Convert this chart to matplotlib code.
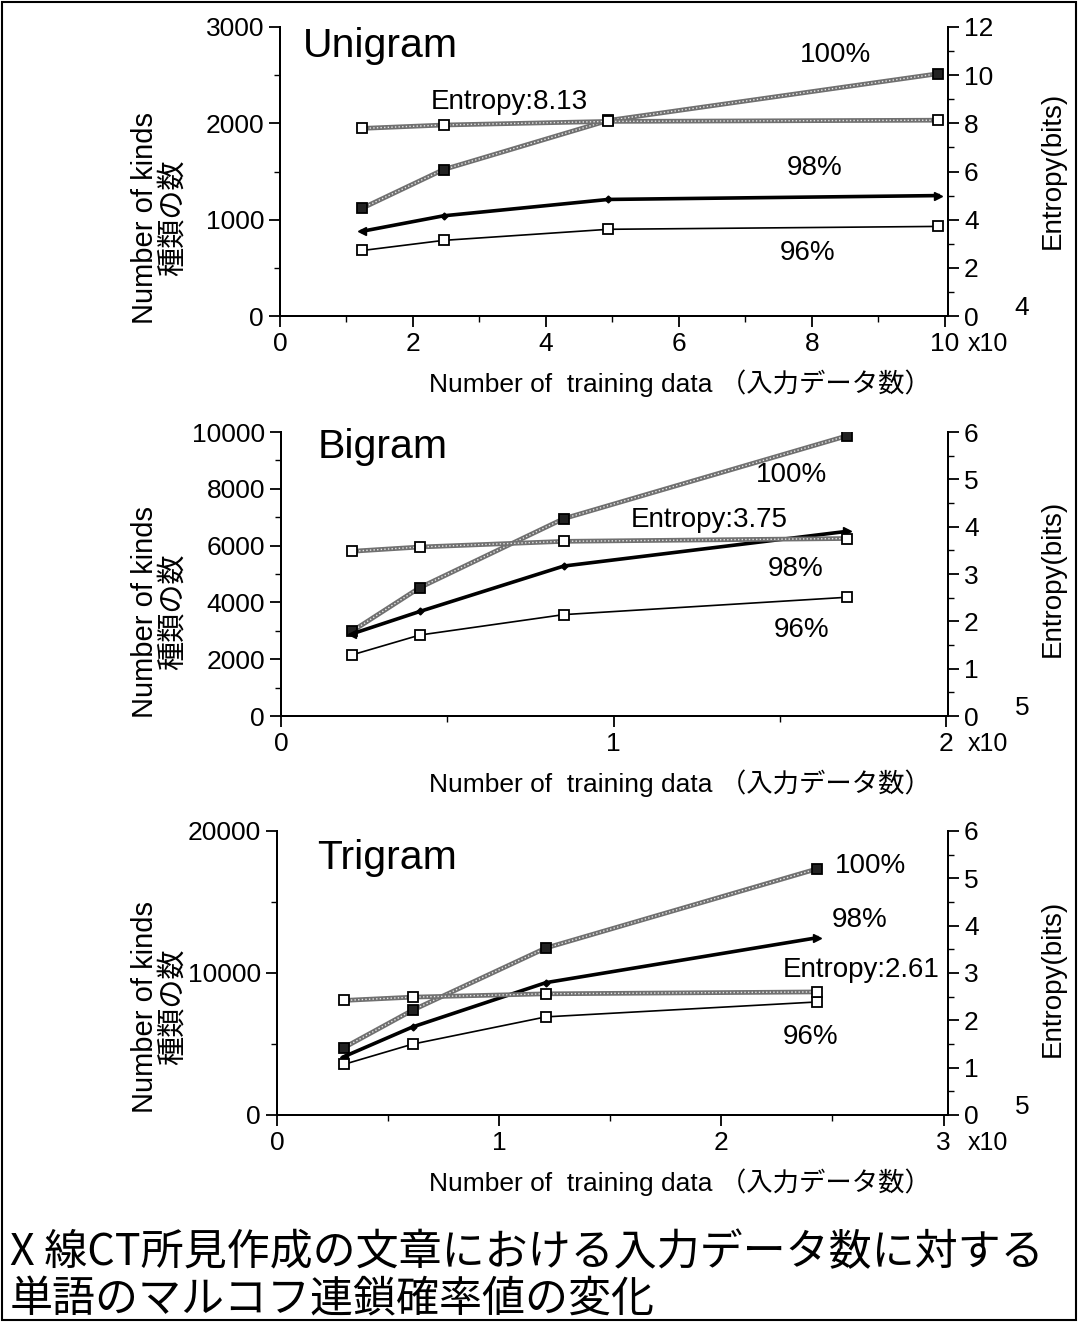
import matplotlib
matplotlib.use('Agg')
import matplotlib.pyplot as plt
from matplotlib.ticker import MultipleLocator
from matplotlib.patches import Rectangle

plt.rcParams['font.family'] = ['Liberation Sans', 'Noto Sans CJK JP', 'DejaVu Sans']

# values (x in units of 10^4 / 10^5)
uni_x = [1.24, 2.46, 4.94, 9.9]
uni_100 = [1120, 1520, 2030, 2515]
uni_98 = [880, 1040, 1210, 1250]
uni_96 = [680, 785, 900, 930]
uni_ent = [7.79, 7.93, 8.08, 8.13]

bi_x = [0.213, 0.417, 0.85, 1.70]
bi_100 = [2980, 4520, 6950, 9860]
bi_98 = [2890, 3680, 5280, 6500]
bi_96 = [2150, 2850, 3570, 4180]
bi_ent = [3.48, 3.57, 3.69, 3.75]

tri_x = [0.30, 0.61, 1.21, 2.43]
tri_100 = [4730, 7380, 11760, 17330]
tri_98 = [4100, 6200, 9320, 12480]
tri_96 = [3560, 4990, 6910, 7960]
tri_ent = [2.42, 2.49, 2.56, 2.60]

titles = ['Unigram', 'Bigram', 'Trigram']
ent_labels = ['Entropy:8.13', 'Entropy:3.75', 'Entropy:2.61']
exponents = ['4', '5', '5']
xlabel = 'Number of  training data （入力データ数）'
ylabel = 'Number of kinds\n種類の数'
caption = 'X 線CT所見作成の文章における入力データ数に対する\n単語のマルコフ連鎖確率値の変化'

W, H = 1078, 1322


def fx(px):
    return px / W


def fy(py):
    return 1 - py / H


def rope(ax, x, y, mfc):
    # grey "rope" looking line of the scan
    ax.plot(x, y, color='#707070', lw=3.4, zorder=3)
    ax.plot(x, y, color='#e6e6e6', lw=1.0, ls=(0, (1, 1.6)), zorder=4)
    ax.plot(x, y, ls='none', marker='s', ms=6.5, mfc=mfc, mec='black', mew=1.3, zorder=5)


def draw_panel(fig, p):
    ax = fig.add_axes([fx(p['left']), fy(p['bottom']), fx(948 - p['left']), (p['bottom'] - p['top']) / H])
    ax2 = ax.twinx()

    rope(ax, p['x'], p['y100'], '#222222')
    ax.plot(p['x'], p['y98'], color='black', lw=2.6, zorder=3)
    ax.plot(p['x'][1:-1], p['y98'][1:-1], ls='none', marker='D', ms=3.5, color='black', zorder=5)
    ax.plot(p['x'][:1], p['y98'][:1], ls='none', marker='<', ms=6, color='black', zorder=5)
    ax.plot(p['x'][-1:], p['y98'][-1:], ls='none', marker='>', ms=6, color='black', zorder=5)
    ax.plot(p['x'], p['y96'], color='black', lw=1.2, zorder=3)
    ax.plot(p['x'], p['y96'], ls='none', marker='s', ms=6.5, mfc='white', mec='black', mew=1.3, zorder=5)
    rope(ax2, p['x'], p['ent'], 'white')

    ax.set_xlim(0, p['xmax'])
    ax.set_ylim(0, p['ymax'])
    ax2.set_ylim(0, p['emax'])
    ax.xaxis.set_major_locator(MultipleLocator(p['xmaj']))
    ax.xaxis.set_minor_locator(MultipleLocator(p['xmaj'] / 2))
    ax.yaxis.set_major_locator(MultipleLocator(p['ymaj']))
    ax.yaxis.set_minor_locator(MultipleLocator(p['ymaj'] / 2))
    ax2.yaxis.set_major_locator(MultipleLocator(p['emaj']))
    ax2.yaxis.set_minor_locator(MultipleLocator(p['emaj'] / 2))

    for a in (ax, ax2):
        a.spines['top'].set_visible(False)
        for s in a.spines.values():
            s.set_linewidth(1.4)
        a.tick_params(which='major', direction='out', length=8, width=1.3, labelsize=19)
        a.tick_params(which='minor', direction='out', length=4, width=1.0)

    ax.text(p['tx'], p['ty'], p['title'], fontsize=29.5, ha='left', va='center')
    for (tx, ty, s) in p['notes']:
        ax.text(tx, ty, s, fontsize=20, ha='center', va='center')

    fig.text(fx(159), fy(p['ylab_y']), ylabel, rotation=90, fontsize=21,
             ha='center', va='center', linespacing=1.0)
    fig.text(fx(1053), fy(p['elab_y']), 'Entropy(bits)', rotation=90, fontsize=20,
             ha='center', va='center')
    fig.text(fx(680), fy(p['bottom'] + 67), xlabel, fontsize=19, ha='center', va='center')
    fig.text(fx(988), fy(p['bottom'] + 28), 'x10', fontsize=18, ha='center', va='center')
    fig.text(fx(1022), fy(p['bottom'] - 8), p['exp'], fontsize=19, ha='center', va='center')
    return ax


def main():
    fig = plt.figure(figsize=(W / 100, H / 100), dpi=100)

    panels = [
        dict(x=uni_x, y100=uni_100, y98=uni_98, y96=uni_96, ent=uni_ent,
             left=280, top=27, bottom=316, xmax=10.05, ymax=3000, emax=12,
             xmaj=2, ymaj=1000, emaj=2, title=titles[0], tx=0.35, ty=2800,
             notes=[(8.35, 2709, '100%'), (3.45, 2221, ent_labels[0]),
                    (8.04, 1536, '98%'), (7.93, 654, '96%')],
             ylab_y=218, elab_y=170, exp=exponents[0]),
        dict(x=bi_x, y100=bi_100, y98=bi_98, y96=bi_96, ent=bi_ent,
             left=281, top=432, bottom=716, xmax=2.005, ymax=10000, emax=6,
             xmaj=1, ymaj=2000, emaj=1, title=titles[1], tx=0.11, ty=9470,
             notes=[(1.535, 8480, '100%'), (1.286, 6900, ent_labels[1]),
                    (1.547, 5175, '98%'), (1.565, 3030, '96%')],
             ylab_y=612, elab_y=578, exp=exponents[1]),
        dict(x=tri_x, y100=tri_100, y98=tri_98, y96=tri_96, ent=tri_ent,
             left=277, top=831, bottom=1115, xmax=3.02, ymax=20000, emax=6,
             xmaj=1, ymaj=10000, emaj=1, title=titles[2], tx=0.18, ty=18090,
             notes=[(2.67, 17530, '100%'), (2.62, 13730, '98%'),
                    (2.63, 10210, ent_labels[2]), (2.40, 5490, '96%')],
             ylab_y=1007, elab_y=978, exp=exponents[2]),
    ]
    for p in panels:
        draw_panel(fig, p)

    fig.text(fx(10), fy(1277), caption, fontsize=31, ha='left', va='center',
             family=['Noto Sans CJK JP', 'DejaVu Sans'], linespacing=1.1)

    fig.patches.append(Rectangle((fx(2), fy(H - 2)), fx(W - 4), (H - 4) / H,
                                 transform=fig.transFigure, fill=False, lw=1.5, ec='black'))
    fig.savefig('out.png', dpi=100)


if __name__ == "__main__":
    main()
